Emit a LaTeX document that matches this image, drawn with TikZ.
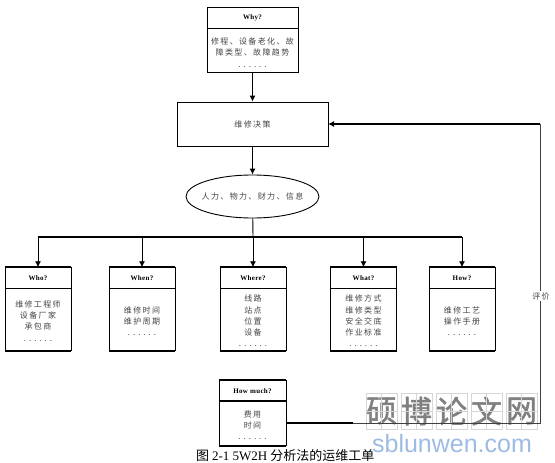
\documentclass[tikz,border=0pt]{standalone}
\usepackage{fontspec}
\setmainfont[LetterSpace=17]{Noto Sans CJK SC}
\newfontfamily\capcjk{Noto Sans CJK SC}
\newfontfamily\markcjk[FakeBold=1.5]{Noto Sans CJK SC}
\newfontfamily\capserif{Liberation Serif}
\newfontfamily\headfont[LetterSpace=5]{Liberation Serif}
\newfontfamily\markfont{Liberation Sans}
\usepackage{xcolor}
\usepackage{tikz}
\usetikzlibrary{arrows.meta,positioning,calc,shapes.geometric}
\definecolor{bodytext}{HTML}{444444}
\definecolor{markgray}{HTML}{808080}
\definecolor{markgrid}{HTML}{D6D6D6}
\definecolor{markblue}{HTML}{9DBBE3}
\newcommand{\wdots}{.\hspace{3pt}.\hspace{3pt}.\hspace{3pt}.\hspace{3pt}.\hspace{3pt}.}
\tikzset{
  wbox/.style={draw, line width=0.9pt, minimum width=66pt, minimum height=83pt, inner sep=0pt},
  whead/.style={font=\headfont\bfseries\fontsize{7}{8}\selectfont, inner sep=0pt},
  wbody/.style={font=\fontsize{8}{11.3}\selectfont, text=bodytext, align=center, inner sep=0pt},
  arr/.style={line width=0.9pt, -{Latex[length=6pt,width=6pt]}},
  rule/.style={line width=1.6pt},
}
\begin{document}
\begin{tikzpicture}[x=1pt,y=-1pt]
  \useasboundingbox (0,0) rectangle (555,463);

  % ======= Why (top) =======
  \node[draw, line width=0.9pt, minimum width=91pt, minimum height=65.5pt, inner sep=0pt] (why) at (252.5,39.7) {};
  \node[whead] (whyhead) at (252.5,18) {Why?};
  \draw[line width=0.9pt] (why.west |- 0,28) -- (why.east |- 0,28);
  \node[wbody] (whybody) at (252.5,52.5) {修程、设备老化、故\\障类型、故障趋势\\\wdots};

  % ======= Decision =======
  \node[draw, line width=0.9pt, minimum width=151pt, minimum height=44pt, inner sep=0pt] (decision) at (252.5,124) {};
  \draw[rule] (decision.south west) -- (decision.south east);
  \node[wbody] (decisionlabel) at (252.5,124) {维修决策};
  \draw[arr] (why) -- (decision);

  % ======= Resources =======
  \node[draw, ellipse, line width=0.9pt, minimum width=133pt, minimum height=43pt, inner sep=0pt] (info) at (252.5,196.5) {};
  \node[wbody] (infolabel) at (252.5,196.5) {人力、物力、财力、信息};
  \draw[arr] (decision) -- (info);

  % ======= Five boxes =======
  \foreach \bname/\cx/\head/\body in {
    who/38/Who?/{维修工程师\\设备厂家\\承包商\\\wdots},
    when/142/When?/{维修时间\\维护周期\\\wdots},
    where/253/Where?/{线路\\站点\\位置\\设备\\\wdots},
    what/363.5/What?/{维修方式\\维修类型\\安全交底\\作业标准\\\wdots},
    how/462/How?/{维修工艺\\操作手册\\\wdots}%
  } {
    \node[wbox] (\bname) at (\cx,309.2) {};
    \draw[rule] (\bname.north west) -- (\bname.north east);
    \draw[rule] (\bname.south west) -- (\bname.south east);
    \coordinate (\bname left) at (\cx-33,288.5);
    \coordinate (\bname right) at (\cx+33,288.5);
    \draw[rule] (\bname left) -- (\bname right);
    \node[whead] (\bname head) at (\cx,278.5) {\head};
    \node[wbody] (\bname body) at (\cx,321) {\body};
    \coordinate (\bname drop) at (\cx,237);
    \draw[arr] (\bname drop) -- (\bname);
  }
  \draw[line width=0.9pt] (info) -- (wheredrop);
  \draw[line width=2pt] (whodrop) -- (howdrop);

  % ======= Watermark =======
  \foreach \i/\ch in {0/硕,1/博,2/论,3/文,4/网} {
    \node[draw=markgrid, line width=0.5pt, minimum width=31pt, minimum height=36pt, inner sep=0pt, font=\markcjk\fontsize{31}{31}\selectfont, text=markgray] (mark\i) at ({381.5+35*\i},411) {\ch};
    \draw[markgrid, line width=0.5pt] (mark\i.north) -- (mark\i.south);
    \draw[markgrid, line width=0.5pt] (mark\i.west) -- (mark\i.east);
  }
  \node[font=\markfont\fontsize{25}{25}\selectfont, text=markblue, inner sep=0pt] (marksite) at (452,444) {sblunwen.com};

  % ======= How much =======
  \node[draw, line width=0.9pt, minimum width=67pt, minimum height=65.5pt, inner sep=0pt] (much) at (252.5,413) {};
  \draw[rule] (much.north west) -- (much.north east);
  \draw[rule] (much.south west) -- (much.south east);
  \coordinate (muchleft) at (219,401);
  \coordinate (muchright) at (286,401);
  \draw[rule] (muchleft) -- (muchright);
  \node[whead] (muchhead) at (252.5,391) {How much?};
  \node[wbody] (muchbody) at (252.5,425) {费用\\时间\\\wdots};

  % ======= Feedback =======
  \coordinate (start) at (286,423);
  \coordinate (fade) at (353,423);
  \coordinate (corner) at (540,423);
  \coordinate (top) at (540,124);
  \coordinate (entry) at (328,124);
  \draw[line width=1.6pt] (start) -- (fade);
  \draw[line width=0.7pt, black!75] (fade) -- (corner) -- (top);
  \draw[line width=1.5pt, -{Latex[length=6pt,width=6pt]}] (top) -- (entry);
  \node[fill=white, inner sep=1pt, font=\fontsize{8}{9}\selectfont, text=bodytext] (eval) at (541,296) {评价};

  % ======= Caption =======
  \node[anchor=west, inner sep=0pt, font=\fontsize{13}{14}\selectfont] (caption) at (196,455.5) {\capcjk 图 {\capserif 2-1 5W2H} 分析法的运维工单};
\end{tikzpicture}
\end{document}
